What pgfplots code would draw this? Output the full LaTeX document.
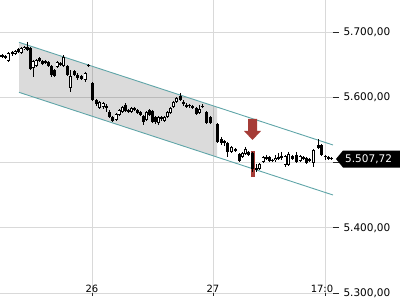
\documentclass[border=0pt]{standalone}
\usepackage{pgfplots}
\pgfplotsset{compat=1.18}
\usepackage{pgfplotstable}
\usepackage{fontspec}
\setmainfont{DejaVu Sans}
\definecolor{chan}{RGB}{95,165,168}
\definecolor{arrowred}{RGB}{165,60,55}
\definecolor{gridc}{RGB}{217,217,217}

% black (falling) candles: x, body top, body bottom, high, low
\pgfplotstableread{
x t b h l
2 5665.0 5662.0 5666.6 5660.4
5 5663.5 5660.4 5665.0 5658.9
12 5669.6 5666.6 5671.2 5663.5
18 5674.3 5669.6 5675.8 5668.1
27 5677.3 5672.7 5685.0 5671.2
30 5675.8 5643.6 5677.3 5642.0
39 5660.4 5655.8 5662.0 5654.3
42 5655.8 5651.2 5657.4 5649.7
45 5655.8 5652.8 5657.4 5651.2
48 5654.3 5648.2 5655.8 5646.6
51 5648.2 5634.4 5649.7 5631.3
54 5642.0 5632.8 5643.6 5631.3
60 5652.8 5649.7 5654.3 5648.2
67 5648.2 5634.4 5649.7 5632.8
74 5640.5 5634.4 5642.0 5632.8
77 5634.4 5629.8 5637.4 5626.7
81 5632.8 5628.2 5634.4 5626.7
88 5649.7 5648.2 5651.2 5646.6
92 5622.1 5596.0 5623.6 5594.5
96 5596.0 5589.9 5597.6 5586.8
106.5 5586.8 5583.8 5589.9 5577.6
109.5 5577.6 5570.0 5580.7 5568.4
112.5 5570.0 5563.8 5571.5 5562.3
125.5 5588.4 5579.2 5591.4 5577.6
128.5 5580.7 5577.6 5582.2 5576.1
134.5 5583.8 5580.7 5585.3 5579.2
137.5 5580.7 5576.1 5582.2 5574.6
140.5 5577.6 5573.0 5579.2 5571.5
143.5 5571.5 5562.3 5573.0 5557.7
149.5 5580.7 5573.0 5582.2 5571.5
152.5 5579.2 5562.3 5580.7 5560.8
155.5 5570.0 5562.3 5571.5 5559.2
161.5 5570.0 5566.9 5571.5 5563.8
180 5602.2 5596.0 5606.8 5594.5
183.5 5593.0 5589.9 5596.0 5586.8
186.5 5588.4 5585.3 5591.4 5583.8
189.5 5588.4 5586.8 5589.9 5583.8
192.5 5586.8 5583.8 5588.4 5582.2
196 5583.8 5574.6 5585.3 5573.0
202.5 5586.8 5585.3 5589.9 5583.8
206.5 5577.6 5560.8 5579.2 5559.2
210.5 5570.0 5560.8 5571.5 5559.2
217.5 5559.2 5531.6 5560.8 5530.1
221 5536.2 5530.1 5539.3 5527.0
224.5 5533.2 5530.1 5534.7 5525.5
227.5 5530.1 5516.3 5531.6 5508.6
235.5 5520.9 5517.8 5522.4 5516.3
239 5513.2 5502.5 5514.7 5500.9
248.5 5516.3 5511.7 5517.8 5510.1
252.5 5514.7 5490.2 5516.3 5485.6
256 5491.7 5488.7 5497.9 5485.6
266.5 5508.6 5505.5 5511.7 5504.0
269.5 5508.6 5502.5 5510.1 5500.9
272.5 5504.0 5502.5 5505.5 5500.9
278.5 5508.6 5505.5 5514.7 5504.0
281.5 5510.1 5507.1 5516.3 5504.0
292 5510.1 5505.5 5511.7 5504.0
296 5511.7 5500.9 5516.3 5499.4
303.5 5508.6 5505.5 5510.1 5504.0
306.5 5507.1 5499.4 5508.6 5497.9
309.5 5505.5 5502.5 5507.1 5500.9
318 5527.0 5522.4 5536.2 5520.9
321.5 5527.0 5511.7 5528.5 5510.1
325 5510.1 5508.6 5511.7 5504.0
328 5508.6 5505.5 5510.1 5504.0
331 5507.1 5505.5 5508.6 5504.0
}\blackc

% white (rising) candles: x, body top, body bottom, high, low
\pgfplotstableread{
x t b h l
8 5668.1 5655.8 5669.6 5654.3
15 5671.2 5666.6 5672.7 5665.0
21 5675.8 5668.1 5677.3 5666.6
24 5677.3 5674.3 5678.9 5672.7
33 5655.8 5645.1 5657.4 5631.3
36 5657.4 5648.2 5658.9 5646.6
57 5654.3 5646.6 5655.8 5645.1
63.5 5662.0 5648.2 5665.0 5646.6
70.5 5632.8 5614.4 5642.0 5608.3
85 5637.4 5626.7 5639.0 5623.6
99.5 5593.0 5583.8 5594.5 5582.2
103 5591.4 5585.3 5593.0 5582.2
116 5574.6 5565.4 5576.1 5563.8
119 5580.7 5573.0 5582.2 5571.5
122.5 5585.3 5577.6 5586.8 5576.1
131.5 5583.8 5577.6 5585.3 5576.1
146.5 5577.6 5565.4 5579.2 5563.8
158.5 5570.0 5560.8 5571.5 5557.7
164.5 5570.0 5563.8 5571.5 5562.3
167.5 5577.6 5570.0 5579.2 5568.4
170.5 5583.8 5576.1 5585.3 5574.6
173.5 5593.0 5585.3 5594.5 5583.8
176.5 5599.1 5593.0 5600.6 5591.4
199.5 5582.2 5576.1 5588.4 5574.6
231.5 5524.0 5516.3 5525.5 5514.7
242.5 5514.7 5508.6 5516.3 5507.1
245.5 5520.9 5513.2 5524.0 5511.7
259.5 5497.9 5490.2 5499.4 5488.7
263 5508.6 5500.9 5510.1 5499.4
275.5 5507.1 5504.0 5511.7 5500.9
285 5510.1 5496.3 5511.7 5493.3
288.5 5513.2 5496.3 5516.3 5494.8
300 5510.1 5502.5 5511.7 5500.9
313.5 5519.3 5499.4 5520.9 5493.3
}\whitec

\begin{document}
\begin{tikzpicture}
\begin{axis}[
  name=ax,
  scale only axis, width=333pt, height=293pt,
  xmin=0, xmax=333, ymin=5300, ymax=5749.4,
  clip=false,
  axis line style={draw=none},
  grid=major, grid style={gridc, line width=0.8pt},
  xtick={92,213,325}, xticklabels={26,27,\kern-6pt 17:0},
  ytick={5300,5400,5500,5600,5700},
  yticklabels={{5.300,00},{5.400,00},{},{5.600,00},{5.700,00}},
  tick align=outside,
  xtick pos=bottom, ytick pos=right, yticklabel pos=right,
  major tick length=6pt,
  tick style={black!85, line width=0.8pt},
  xtick style={/pgfplots/major tick length=3pt},
  /pgf/number format/assume math mode=true,
  yticklabel style={font=\fontsize{10.5}{12}\selectfont, anchor=west, xshift=1pt},
  xticklabel style={font=\fontsize{10}{12}\selectfont, anchor=base, yshift=6.5pt},
]
% channel fill
\addplot[fill=black, fill opacity=0.14, draw=none, forget plot]
  coordinates {(19,5684.5) (217,5585.2) (217,5508.5) (19,5607.8)} -- cycle;
% channel lines
\addplot[chan, line width=0.9pt] coordinates {(19,5684.5) (333,5527.0)};
\addplot[chan, line width=0.9pt] coordinates {(19,5607.8) (333,5450.3)};
% highlight behind candle
\addplot[fill=arrowred, draw=none]
  coordinates {(250.5,5517.8) (254.5,5517.8) (254.5,5477.9) (250.5,5477.9)} -- cycle;
% arrow
\addplot[fill=arrowred, draw=none]
  coordinates {(248,5566.9) (257,5566.9) (257,5548.5) (261,5548.5) (252.5,5534.7) (244,5548.5) (248,5548.5)} -- cycle;
% wicks
\addplot[draw=none, mark=none, forget plot,
  error bars/.cd, y dir=minus, y explicit, error mark=none,
  error bar style={draw=black, line width=0.8pt}]
  table[x=x, y=h, y error expr=\thisrow{h}-\thisrow{l}] {\blackc};
\addplot[draw=none, mark=none, forget plot,
  error bars/.cd, y dir=minus, y explicit, error mark=none,
  error bar style={draw=black, line width=0.8pt}]
  table[x=x, y=h, y error expr=\thisrow{h}-\thisrow{l}] {\whitec};
% black bodies
\addplot[draw=none, mark=none, forget plot,
  error bars/.cd, y dir=minus, y explicit, error mark=none,
  error bar style={draw=black, line width=3pt}]
  table[x=x, y=t, y error expr=\thisrow{t}-\thisrow{b}] {\blackc};
% white bodies
\addplot[draw=none, mark=none, forget plot,
  error bars/.cd, y dir=minus, y explicit, error mark=none,
  error bar style={draw=black, line width=3pt}]
  table[x=x, y=t, y error expr=\thisrow{t}-\thisrow{b}] {\whitec};
\addplot[draw=none, mark=none, forget plot,
  error bars/.cd, y dir=minus, y explicit, error mark=none,
  error bar style={draw=white, line width=1.4pt}]
  table[x=x, y expr=\thisrow{t}-1.0, y error expr={max(\thisrow{t}-\thisrow{b}-2.0,0)}] {\whitec};
\coordinate (tip) at (axis cs:336,5505.5);
\end{axis}
% last price tag
\fill[black] (tip) -- ++(7pt,8.5pt) -- ++(58pt,0pt) -- ++(0pt,-17pt) -- ++(-58pt,0pt) -- cycle;
\node[white, anchor=west, inner sep=0pt, font=\fontsize{10.5}{12}\selectfont] at ([xshift=9pt]tip) {5.507,72};
\pgfresetboundingbox
\useasboundingbox ([yshift=-7pt]ax.south west) rectangle ([xshift=67pt]ax.north east);
\end{tikzpicture}
\end{document}
